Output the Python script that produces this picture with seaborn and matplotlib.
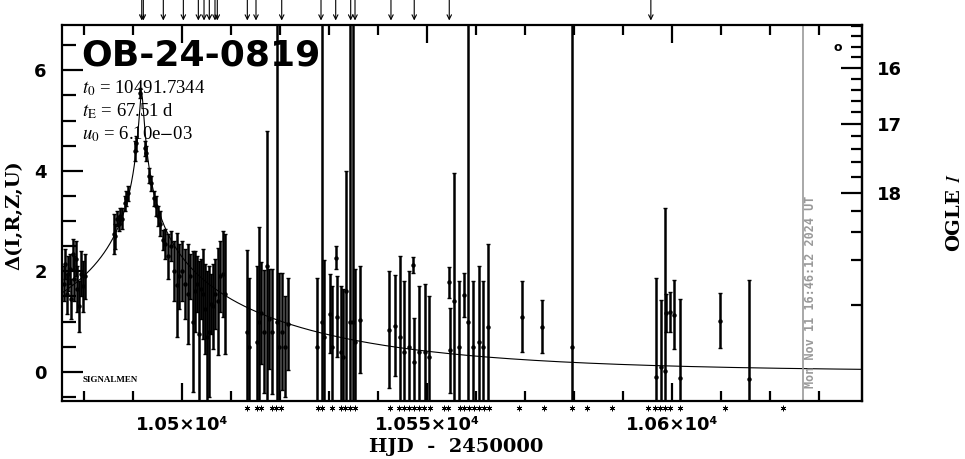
import numpy as np
import matplotlib
matplotlib.use('Agg')
import matplotlib.pyplot as plt
import seaborn as sns
from matplotlib.ticker import FixedLocator, MultipleLocator, FixedFormatter

# fit parameters shown on the chart
t0 = 10491.7344
tE = 67.51
u0 = 6.10e-03

# OGLE baseline for the right hand magnitude axis
I_base = 18.93
f_source = 0.053

now_t = 10626.7

# observations: HJD-2450000, delta mag, error
t_obs = [
    10475.9, 10476.2, 10476.5, 10476.8, 10477.1, 10477.4, 10477.7, 10478.0, 10478.3, 10478.6,
    10478.9, 10479.3, 10479.7, 10480.1,
    10486.1, 10486.4, 10486.8, 10487.1, 10487.4, 10487.8, 10488.3, 10488.6, 10488.9,
    10490.3, 10490.6, 10491.4, 10492.4, 10492.7, 10493.3, 10493.6, 10494.3, 10494.7, 10495.1,
    10495.5,
    10496.1, 10496.5, 10497.1, 10497.8, 10498.4, 10499.0, 10499.4, 10500.0, 10500.6, 10501.2,
    10501.6, 10502.2, 10502.7, 10503.1, 10503.5, 10503.9, 10504.3, 10504.7, 10505.1, 10505.5,
    10505.9, 10506.3, 10506.7, 10507.3, 10507.8, 10508.4, 10508.8,
    10513.3, 10513.7, 10515.3, 10515.7, 10516.1, 10516.7, 10517.3, 10517.8, 10518.4, 10519.4,
    10519.8, 10520.4, 10521.0, 10521.6,
    10527.5, 10528.5, 10529.0, 10530.2, 10530.6, 10531.4, 10531.6, 10532.4, 10532.8, 10533.4,
    10534.2, 10534.8, 10535.3, 10536.3,
    10542.2, 10543.5, 10544.5, 10545.3, 10546.3, 10547.1, 10547.3, 10548.4, 10549.6, 10550.4,
    10554.5, 10554.6, 10555.5, 10556.5, 10557.6, 10558.4, 10559.4, 10560.6, 10561.4, 10562.4,
    10569.4, 10573.5, 10579.6,
    10596.7, 10597.7, 10598.6, 10598.8, 10599.6, 10600.5, 10601.6, 10609.8, 10615.7,
]
dmag = [
    1.75, 2.15, 1.55, 1.95, 2.05, 1.45, 2.35, 1.85, 2.25, 1.65,
    1.30, 1.95, 1.70, 1.90,
    2.75, 2.70, 3.05, 2.95, 3.10, 3.05, 3.35, 3.45, 3.55,
    4.40, 4.55, 5.55, 4.45, 4.35, 3.90, 3.75, 3.45, 3.30, 3.10,
    2.95,
    2.63, 2.55, 2.30, 2.50, 2.00, 1.73, 1.90, 2.00, 1.75, 1.55,
    1.90, 1.00, 1.60, 1.75, 0.75, 1.65, 1.55, 1.25, 0.70, 0.80,
    1.35, 1.30, 1.55, 1.40, 1.90, 1.95, 1.55,
    0.80, 0.50, 0.60, 1.00, 1.17, 0.80, 2.10, 1.05, 0.80, 1.00,
    0.50, 0.80, 0.50, 0.95,
    0.50, 1.00, 0.70, 1.16, 0.50, 2.27, 1.10, 0.40, 0.30, 1.60,
    1.00, 1.00, 0.60, 1.04,
    0.84, 0.92, 0.70, 0.40, 0.50, 2.13, 0.20, 0.40, 0.40, 0.30,
    1.78, 0.43, 1.40, 0.50, 1.53, 1.00, 0.50, 0.60, 0.50, 0.90,
    1.10, 0.90, 0.50,
    -0.10, 0.10, 0.02, 1.17, 1.19, 1.14, -0.12, 1.02, -0.14,
]
dmag_err = [
    0.35, 0.30, 0.40, 0.35, 0.30, 0.40, 0.30, 0.45, 0.35, 0.45,
    0.50, 0.45, 0.50, 0.45,
    0.40, 0.25, 0.15, 0.15, 0.15, 0.20, 0.15, 0.15, 0.15,
    0.20, 0.15, 0.10, 0.15, 0.15, 0.15, 0.15, 0.15, 0.20, 0.20,
    0.25,
    0.20, 0.30, 0.45, 0.30, 0.60, 1.03, 0.65, 0.60, 0.70, 1.00,
    0.45, 1.40, 0.80, 0.55, 1.45, 0.60, 0.90, 0.90, 1.30, 1.30,
    0.60, 0.85, 0.70, 1.07, 0.70, 0.85, 1.20,
    1.63, 1.37, 1.50, 1.88, 1.02, 1.23, 2.70, 1.00, 1.25, 10.0,
    1.47, 1.17, 1.00, 0.92,
    1.37, 10.0, 1.53, 0.78, 1.20, 0.23, 0.80, 1.30, 1.35, 2.40,
    10.0, 10.0, 1.45, 1.06,
    1.16, 1.00, 1.60, 1.40, 1.50, 0.16, 0.87, 1.30, 1.35, 1.20,
    0.31, 0.85, 2.55, 1.30, 0.44, 10.0, 1.30, 1.50, 1.30, 1.65,
    0.71, 0.52, 10.0,
    1.97, 1.33, 3.23, 0.37, 0.39, 0.68, 1.57, 0.54, 1.97,
]

# arrows above the frame and asterisks below it
alert_t = [10491.78, 10492.1, 10496.18, 10500.27, 10503.33, 10504.49, 10505.57, 10506.73,
           10507.2, 10513.33, 10515.1, 10520.35, 10528.37, 10531.37, 10534.43, 10535.31,
           10542.65, 10547.4, 10554.55, 10595.7]
night_t = [10513.3, 10515.3, 10516.1, 10518.4, 10519.2, 10520.2, 10527.8, 10528.6, 10530.6,
           10532.4, 10533.3, 10534.3, 10535.3, 10542.4, 10544.3, 10545.3, 10546.3, 10547.3,
           10548.4, 10549.4, 10550.6, 10553.5, 10554.3, 10556.7, 10557.6, 10558.6, 10559.6,
           10560.6, 10561.6, 10562.7, 10568.8, 10573.9, 10579.6, 10582.7, 10587.8, 10595.1,
           10596.5, 10597.6, 10598.6, 10599.6, 10601.6, 10610.8, 10622.7]

xtick_pos = [10500, 10550, 10600]
xtick_labels = ['1.05×10⁴', '1.055×10⁴', '1.06×10⁴']
ogle_major = [16, 17, 18]
ogle_minor = [15.2, 15.4, 15.6, 15.8, 16.2, 16.4, 16.6, 16.8, 17.2, 17.4, 17.6, 17.8,
              18.2, 18.4, 18.6, 18.8]


def delta_to_mag(d):
    d = np.asarray(d, dtype=float)
    amp = 10 ** (0.4 * d)
    flux = np.clip(f_source * (amp - 1) + 1, 1e-6, None)
    return I_base - 2.5 * np.log10(flux)


def mag_to_delta(m):
    m = np.asarray(m, dtype=float)
    amp = 1 + (10 ** (0.4 * (I_base - m)) - 1) / f_source
    return 2.5 * np.log10(np.clip(amp, 1e-6, None))


sns.set_style('ticks')
plt.rcParams['font.family'] = ['DejaVu Sans']
plt.rcParams['mathtext.fontset'] = 'stix'
for key in ['text.color', 'axes.labelcolor', 'xtick.color', 'ytick.color', 'axes.edgecolor']:
    plt.rcParams[key] = 'black'

fig = plt.figure(figsize=(9.65, 4.59), dpi=100)
ax = fig.add_axes([62 / 965, 58 / 459, 800 / 965, 376 / 459])
ax.set_xlim(10475.5, 10638.8)
ax.set_ylim(-0.58, 6.9)

# Paczynski curve for the fitted parameters
tt = np.linspace(10475.5, 10638.8, 3000)
uu = np.sqrt(u0 ** 2 + ((tt - t0) / tE) ** 2)
amp = (uu ** 2 + 2) / (uu * np.sqrt(uu ** 2 + 4))
sns.lineplot(x=tt, y=2.5 * np.log10(amp), color='black', lw=0.8, sort=False, ax=ax)

ax.errorbar(t_obs, dmag, yerr=dmag_err, fmt='o', ms=2.2, color='black', ecolor='black',
            elinewidth=1.8, capsize=1.5, capthick=1.0)

ax.axvline(now_t, color='#999999', lw=1.2)
ax.text(now_t + 1.5, 0.035, 'Mon Nov 11 16:46:12 2024 UT', rotation=90, color='#999999',
        fontsize=8.5, fontweight='bold', family='DejaVu Sans Mono', ha='center', va='bottom',
        transform=ax.get_xaxis_transform())

xt = ax.get_xaxis_transform()
for t in alert_t:
    ax.annotate('', xy=(t, 1.012), xycoords=xt, xytext=(t, 1.068), textcoords=xt,
                arrowprops=dict(arrowstyle='->', lw=0.8, color='black', shrinkA=0, shrinkB=0,
                                mutation_scale=8),
                annotation_clip=False)
ax.plot(night_t, [-0.019] * len(night_t), transform=xt, ls='none', marker=(6, 2, 0),
        ms=4, mew=0.6, color='black', clip_on=False)

# texts inside the frame
ax.text(0.024, 0.92, 'OB-24-0819', transform=ax.transAxes, fontsize=26, fontweight='bold',
        va='center', ha='left')
param_lines = [r'$t_0$ = 10491.7344', r'$t_{\rm E}$ = 67.51 d', r'$u_0$ = 6.10e$-$03']
for i, s in enumerate(param_lines):
    ax.text(0.025, 0.832 - i * 0.061, s, transform=ax.transAxes, fontsize=13.5,
            family='Liberation Serif', va='center', ha='left')
ax.text(0.026, 0.056, 'SIGNALMEN', transform=ax.transAxes, fontsize=6.5,
        family='Liberation Serif', fontweight='bold', va='center', ha='left')
ax.text(0.97, 0.94, 'o', transform=ax.transAxes, fontsize=9, fontweight='bold',
        va='center', ha='center')

# axes, ticks
for sp in ax.spines.values():
    sp.set_linewidth(1.6)
    sp.set_visible(True)
    sp.set_color('black')
ax.xaxis.set_major_locator(FixedLocator(xtick_pos))
ax.xaxis.set_major_formatter(FixedFormatter(xtick_labels))
ax.xaxis.set_minor_locator(MultipleLocator(10))
ax.yaxis.set_major_locator(MultipleLocator(2))
ax.yaxis.set_minor_locator(MultipleLocator(0.5))
ax.tick_params(axis='x', which='both', direction='in', top=True, bottom=True, width=1.6,
               labelsize=13, pad=11, colors='black')
ax.tick_params(axis='x', which='major', length=13)
ax.tick_params(axis='x', which='minor', length=7)
ax.tick_params(axis='y', which='both', direction='in', left=True, right=False, width=1.6,
               labelsize=13, pad=11, colors='black')
ax.tick_params(axis='y', which='major', length=15)
ax.tick_params(axis='y', which='minor', length=10)
for lab in ax.get_xticklabels() + ax.get_yticklabels():
    lab.set_fontweight('bold')

sec = ax.secondary_yaxis('right', functions=(delta_to_mag, mag_to_delta))
sec.yaxis.set_major_locator(FixedLocator(ogle_major))
sec.yaxis.set_minor_locator(FixedLocator(ogle_minor))
sec.tick_params(axis='y', which='both', direction='in', width=1.6, labelsize=13, pad=11,
                colors='black')
sec.tick_params(axis='y', which='major', length=15)
sec.tick_params(axis='y', which='minor', length=8)
sec.spines['right'].set_linewidth(1.6)
sec.spines['right'].set_color('black')
for lab in sec.get_yticklabels():
    lab.set_fontweight('bold')
ax.set_xlabel('')
ax.set_ylabel('')

fig.text(14 / 965, 1 - 215 / 459, 'Δ(I,R,Z,U)', rotation=90, fontsize=14, fontweight='bold',
         family='DejaVu Serif', ha='center', va='center')
fig.text(955 / 965, 1 - 213 / 459, r'OGLE $I$', rotation=90, fontsize=14, fontweight='bold',
         family='DejaVu Serif', ha='center', va='center')
fig.text(456 / 965, 1 - 447 / 459, 'HJD  -  2450000', fontsize=14, fontweight='bold',
         family='DejaVu Serif', ha='center', va='center')

fig.savefig('out.png', dpi=100, facecolor='white')
plt.close(fig)
